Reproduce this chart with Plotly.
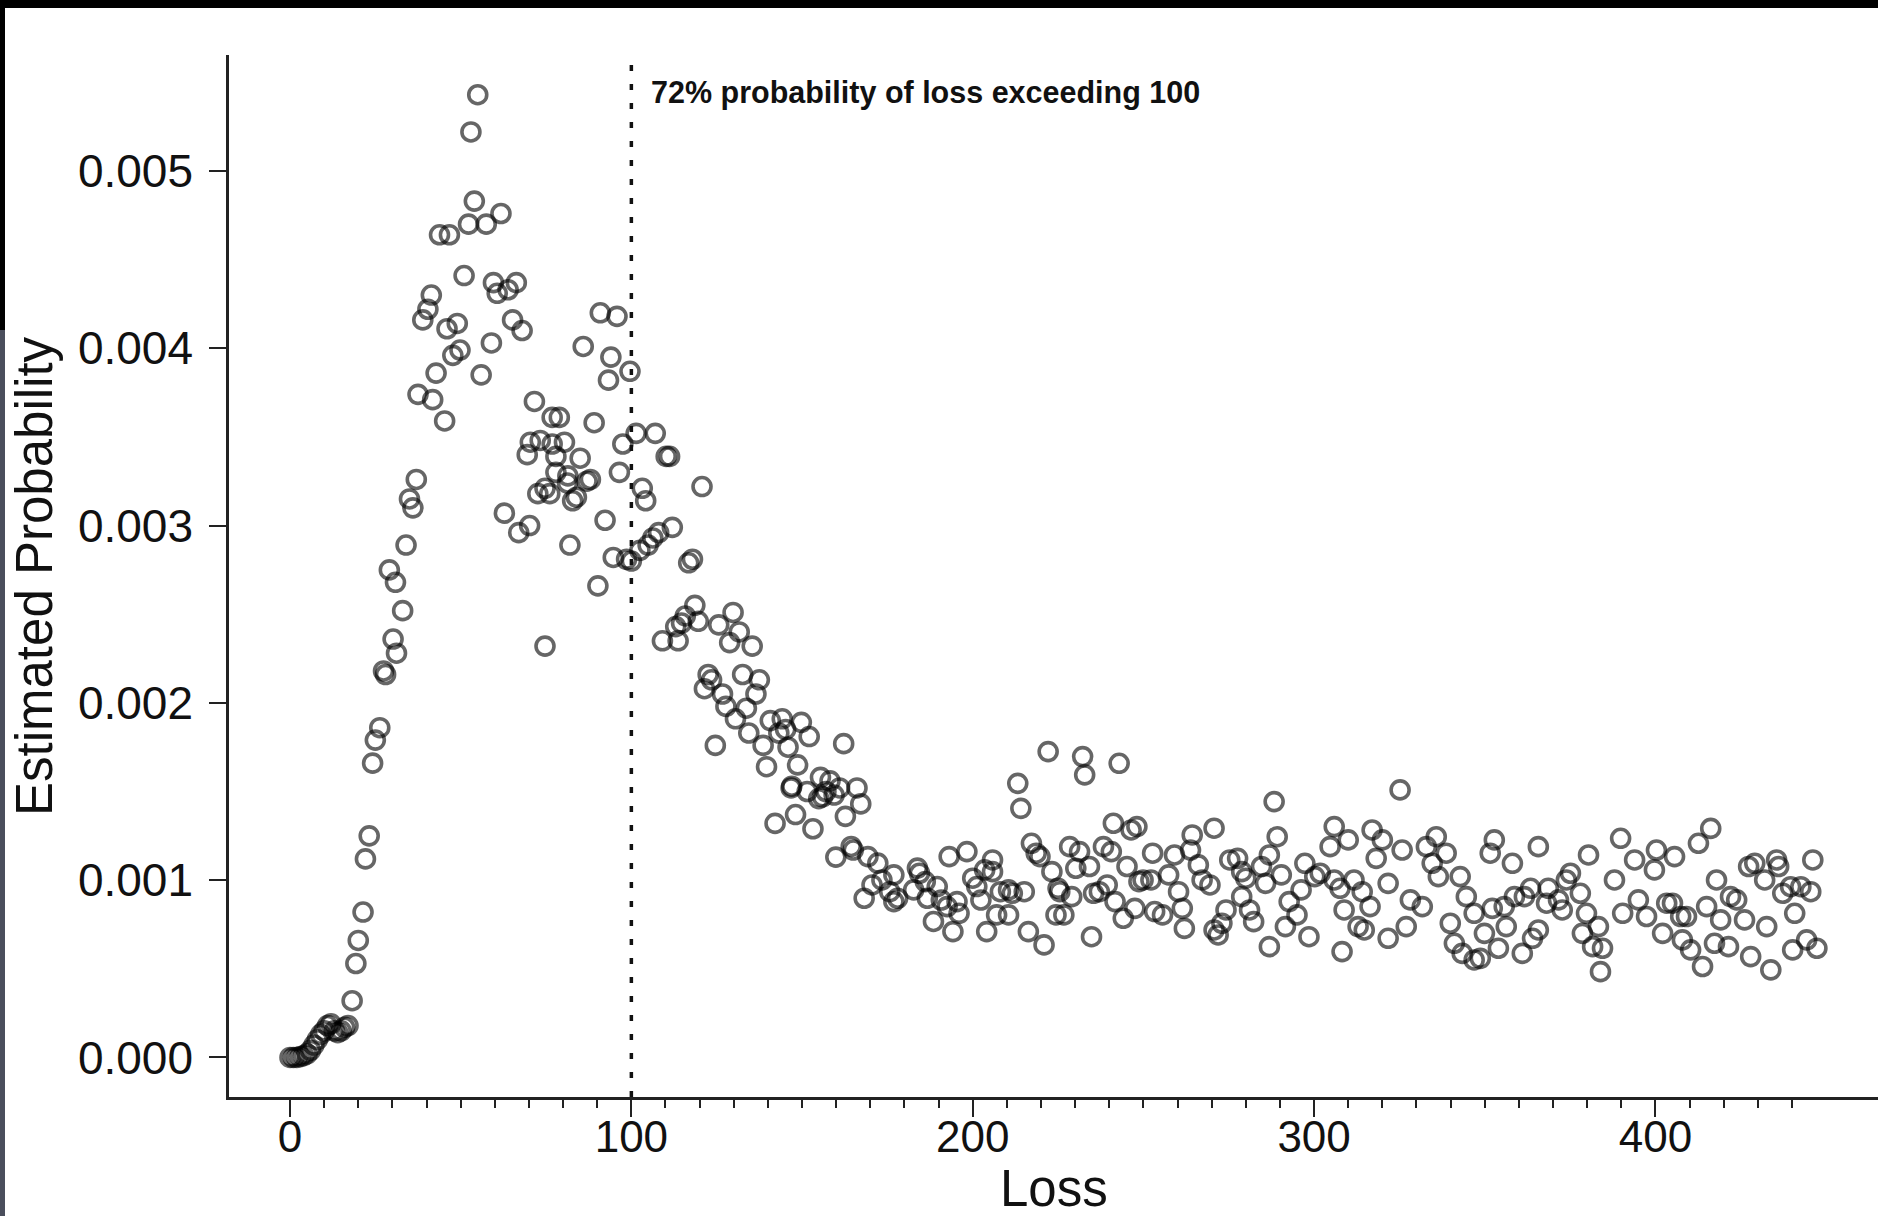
import plotly.graph_objects as go

# ---- data ----
loss = [
    0, 1, 2, 3, 4, 5, 6, 7, 8, 9, 10, 11, 12, 13, 14, 15, 16, 17,
    18.2, 19.3, 20.0, 21.4, 22.1, 23.2, 24.2, 25.0, 26.3, 27.4, 28.0, 29.1, 30.2, 30.9, 31.2,
    33.0, 34.0, 35.0, 36.0, 37.0, 37.5, 38.9, 40.4, 41.4, 41.8, 42.8, 43.8, 45.3, 46.7, 46.0,
    47.7, 49.0, 49.8, 51.0, 52.3, 53.0, 54.0, 55.0, 56.0, 57.5, 59.0, 59.6, 60.7, 61.8, 62.8,
    63.9, 65.2, 66.3, 67.0, 68.0, 69.5, 70.2, 70.4, 71.6, 72.6, 73.3, 74.7, 74.7, 76.1, 76.8,
    76.8, 77.9, 77.9, 78.9, 80.4, 81.3, 81.4, 82.0, 82.8, 83.9, 85.0, 85.9, 87.0, 88.0, 89.1,
    90.2, 90.9, 92.3, 93.3, 94.0, 94.7, 95.8, 96.5, 97.5, 98.6, 99.6, 100.0, 101.4, 102.5,
    103.2, 104.2, 104.9, 106.3, 107.0, 108.0, 109.1, 110.2, 111.2, 112.0, 113.0, 113.7, 114.7,
    115.8, 116.8, 117.9, 118.6, 119.6, 120.7, 121.4, 122.5, 123.5, 124.6, 125.6, 126.7, 127.7,
    128.8, 129.8, 130.5, 131.6, 132.6, 133.7, 134.4, 135.4, 136.5, 137.5, 138.6, 139.6, 140.7,
    142.1, 143.2,
    144.2, 145.2, 145.9, 146.8, 147.0, 148.1, 148.7, 149.8, 151.5, 152.1, 153.2, 154.9, 155.4,
    156.0, 157.0, 158.2, 159.4, 159.9, 161.0, 162.2, 162.7, 164.4, 165.0, 166.1, 167.2,
    169.3, 172.2, 168.2, 170.5, 173.4, 176.9, 175.7, 178.0, 176.9, 183.8, 184.4, 186.1, 182.7,
    186.7, 189.6, 188.5, 190.8, 192.5, 195.4, 196.0, 194.2, 193.1, 198.3, 200.0, 201.2, 202.4,
    203.5, 205.8, 205.8, 204.1, 208.1, 210.5, 211.6, 210.5, 207.0, 215.1, 216.3, 220.9, 217.2,
    218.6, 219.7, 223.2, 225.0, 225.5, 224.4, 226.7, 229.0, 228.4, 231.3, 230.2, 234.2, 235.4,
    234.8, 237.1, 239.4, 238.3, 240.6, 241.7, 244.1, 245.2, 247.5, 248.7, 249.9, 252.2, 252.7,
    253.3, 255.6, 257.4, 259.1, 260.3, 261.4, 262.0, 263.8, 266.1, 267.2, 269.5, 270.7, 271.9,
    273.0, 274.2, 275.3, 277.6, 278.8, 280.0, 278.8, 281.1, 282.3, 284.6, 286.9, 285.8, 290.4,
    286.9, 291.6, 292.7, 295.0, 296.2, 298.5, 297.3, 300.2,
    241.2, 246.4, 248.1, 264.3, 270.7, 289.2,
    222.1, 232.2, 232.8, 242.9, 213.2, 214.1, 288.3,
    301.8, 305.9, 304.7, 310.0, 305.9, 307.6, 311.7, 308.8, 314.1, 316.4, 312.9, 314.7, 308.2,
    317.0, 320.0, 318.2, 325.8, 321.7, 321.7, 327.0, 325.2, 328.2, 331.7, 332.9, 335.8, 334.6,
    338.7, 336.4, 339.9, 341.1, 342.8, 344.6, 346.9, 343.4, 346.9, 348.7, 349.9, 352.8, 351.6,
    358.1, 352.2, 355.7, 354.0, 356.3, 358.7, 361.6, 363.4, 361.0, 365.7, 368.6, 365.7, 364.0,
    368.1, 371.6, 373.9, 372.7, 375.1, 378.0, 380.4, 379.8, 378.6, 381.6, 383.9, 384.5, 383.3,
    388.0, 389.8, 390.4, 393.9, 395.0, 397.4, 400.3, 399.7, 405.6, 403.3, 402.1, 405.0, 407.4,
    409.1, 407.9, 410.3, 413.8, 412.6, 416.2, 415.0, 417.9, 419.1, 421.4, 417.3, 422.0, 423.8,
    426.1, 427.3, 429.1, 427.9, 432.6, 433.8, 432.0, 435.5, 436.1, 437.3, 439.6, 440.8, 440.2,
    442.6, 444.3, 445.5, 446.1, 447.3,
]

# estimated probability, in thousandths
prob_milli = [
    0.0, 0.0, 0.0, 0.005, 0.01, 0.02, 0.04, 0.07, 0.10, 0.13, 0.15, 0.18, 0.19, 0.15, 0.14, 0.15, 0.17, 0.18,
    0.32, 0.53, 0.66, 0.82, 1.12, 1.25, 1.66, 1.79, 1.86, 2.18, 2.16, 2.75, 2.36, 2.68, 2.28,
    2.52, 2.89, 3.15, 3.10, 3.26, 3.74, 4.16, 4.22, 4.30, 3.71, 3.86, 4.64, 3.59, 4.64, 4.11,
    3.96, 4.14, 3.99, 4.41, 4.70, 5.22, 4.83, 5.43, 3.85, 4.70, 4.03, 4.37, 4.31, 4.76, 3.07,
    4.33, 4.16, 4.37, 2.96, 4.10, 3.40, 3.00, 3.47, 3.70, 3.18, 3.48, 2.32, 3.21, 3.18, 3.61,
    3.46, 3.39, 3.30, 3.61, 3.47, 3.24, 3.28, 2.89, 3.14, 3.16, 3.38, 4.01, 3.25, 3.26, 3.58,
    2.66, 4.20, 3.03, 3.82, 3.95, 2.82, 4.18, 3.30, 3.46, 2.81, 3.87, 2.80, 3.52, 2.86,
    3.21, 3.14, 2.89, 2.93, 3.52, 2.96, 2.35, 3.39, 3.39, 2.99, 2.43, 2.35, 2.45,
    2.49, 2.79, 2.81, 2.55, 2.46, 3.22, 2.08, 2.16, 2.13, 1.76, 2.44, 2.05, 1.98,
    2.34, 2.51, 1.91, 2.40, 2.16, 1.97, 1.83, 2.32, 2.05, 2.13, 1.76, 1.64, 1.90,
    1.32, 1.83,
    1.91, 1.85, 1.75, 1.52, 1.53, 1.37, 1.65, 1.89, 1.50, 1.81, 1.29, 1.46, 1.58,
    1.47, 1.50, 1.56, 1.48, 1.13, 1.52, 1.77, 1.36, 1.19, 1.17, 1.52, 1.43,
    1.133, 1.096, 0.898, 0.973, 1.001, 1.030, 0.935, 0.898, 0.879, 1.068, 1.039, 0.992, 0.945,
    0.898, 0.964, 0.767, 0.888, 0.851, 0.879, 0.813, 0.710, 1.133, 1.161, 1.011, 0.964, 0.888,
    1.058, 1.114, 1.048, 0.710, 0.935, 0.945, 0.926, 0.804, 0.804, 0.935, 0.710, 0.635, 1.208,
    1.152, 1.133, 1.048, 0.954, 0.935, 0.804, 0.804, 0.907, 1.189, 1.161, 1.067, 1.077, 0.926,
    0.681, 0.935, 0.973, 1.189, 1.161, 0.879, 0.785, 1.077, 0.841, 0.992, 1.001, 1.001, 1.152,
    0.823, 0.804, 1.030, 1.142, 0.935, 0.841, 0.728, 1.170, 1.086, 1.001, 0.973, 0.719, 0.691,
    0.757, 0.832, 1.114, 1.123, 1.048, 1.011, 0.907, 0.832, 0.766, 1.077, 1.142, 0.982, 1.030,
    0.625, 0.738, 0.879, 0.804, 0.945, 0.681, 1.095, 1.020,
    1.321, 1.283, 1.302, 1.255, 1.293, 1.245,
    1.725, 1.697, 1.594, 1.659, 1.546, 1.405, 1.443,
    1.039, 1.302, 1.189, 1.227, 1.001, 0.954, 1.001, 0.832, 0.935, 0.851, 0.738, 0.719, 0.597,
    1.283, 1.227, 1.123, 1.170, 0.982, 0.672, 0.738, 1.509, 0.889, 0.851, 1.189, 1.245, 1.095,
    1.152, 1.020, 0.757, 0.644, 1.020, 0.907, 0.813, 0.587, 0.550, 0.559, 0.700, 1.227, 1.152,
    1.095, 0.841, 0.851, 0.616, 0.738, 0.907, 0.907, 0.954, 0.587, 1.189, 0.954, 0.719, 0.672,
    0.870, 0.889, 1.001, 0.832, 1.039, 0.926, 1.142, 0.813, 0.700, 0.625, 0.484, 0.616, 0.738,
    1.001, 1.236, 0.813, 1.114, 0.889, 0.795, 1.170, 1.058, 1.133, 0.870, 0.700, 0.870, 0.795,
    0.795, 0.663, 0.607, 0.513, 1.208, 1.292, 0.851, 1.001, 0.776, 0.625, 0.644, 0.907, 0.889,
    0.776, 1.077, 1.095, 0.569, 0.738, 0.494, 1.001, 1.114, 1.077, 0.926, 0.963, 0.813, 0.607,
    0.963, 0.663, 0.935, 1.114, 0.616,
]
prob = [v / 1000 for v in prob_milli]

threshold = 100
annotation_text = "72% probability of loss exceeding 100"
x_major_ticks = [0, 100, 200, 300, 400]
x_minor_ticks = list(range(0, 441, 10))
y_ticks = [0.000, 0.001, 0.002, 0.003, 0.004, 0.005]
y_ticklabels = ["0.000", "0.001", "0.002", "0.003", "0.004", "0.005"]

W, H = 1878, 1216
ML, MR, MT, MB = 229, 0, 55, 119
PW, PH = W - ML - MR, H - MT - MB


def px_x(px):
    return (px - ML) / PW


def px_y(py):
    return (H - MB - py) / PH


fig = go.Figure()
fig.add_trace(go.Scatter(
    x=loss, y=prob, mode="markers",
    marker=dict(symbol="circle-open", size=18, color="rgba(0,0,0,0.6)",
                line=dict(width=3.6, color="rgba(0,0,0,0.6)")),
    hoverinfo="skip", showlegend=False,
))

font_family = "Liberation Sans, Arial, Helvetica, sans-serif"

fig.update_layout(
    width=W, height=H,
    margin=dict(l=ML, r=MR, t=MT, b=MB, pad=0),
    paper_bgcolor="white", plot_bgcolor="white",
    font=dict(family=font_family, color="#111"),
    xaxis=dict(
        range=[-17.87, 465.2], showgrid=False, zeroline=False,
        showline=True, linecolor="#222", linewidth=2.5,
        ticks="outside", ticklen=17, tickwidth=2, tickcolor="#222",
        tickmode="array", tickvals=x_major_ticks,
        ticktext=[str(v) for v in x_major_ticks],
        tickfont=dict(size=44, family=font_family, color="#111"),
        ticklabelstandoff=-18,
        minor=dict(tickmode="array", tickvals=x_minor_ticks, ticks="outside",
                   ticklen=8, tickwidth=1.5, tickcolor="#222", showgrid=False),
    ),
    yaxis=dict(
        range=[-0.000223, 0.005654], showgrid=False, zeroline=False,
        showline=True, linecolor="#222", linewidth=2.5,
        ticks="outside", ticklen=17, tickwidth=2, tickcolor="#222",
        tickmode="array", tickvals=y_ticks, ticktext=y_ticklabels,
        tickfont=dict(size=46, family=font_family, color="#111"),
        ticklabelstandoff=7,
    ),
    shapes=[
        dict(type="line", xref="x", yref="paper", x0=threshold, x1=threshold, y0=0, y1=1,
             line=dict(color="#111", width=3.5, dash="6px,13px")),
        # screenshot frame strips
        dict(type="rect", xref="paper", yref="paper", x0=px_x(0), x1=px_x(W), y0=px_y(0), y1=px_y(8),
             fillcolor="black", line=dict(width=0), layer="above"),
        dict(type="rect", xref="paper", yref="paper", x0=px_x(0), x1=px_x(5), y0=px_y(0), y1=px_y(330),
             fillcolor="black", line=dict(width=0), layer="above"),
        dict(type="rect", xref="paper", yref="paper", x0=px_x(0), x1=px_x(5), y0=px_y(330), y1=px_y(H),
             fillcolor="#4a4e5c", line=dict(width=0), layer="above"),
    ],
    annotations=[
        dict(x=105.2, y=0.005443, xref="x", yref="y", text="<b>" + annotation_text + "</b>",
             showarrow=False, xanchor="left", yanchor="middle",
             font=dict(size=30.5, family=font_family, color="#111")),
        dict(x=0.5, y=px_y(1188), xref="paper", yref="paper", text="Loss", showarrow=False,
             xanchor="center", yanchor="middle", font=dict(size=51, family=font_family, color="#111")),
        dict(x=px_x(34), y=0.5, xref="paper", yref="paper", text="Estimated Probability",
             showarrow=False, textangle=-90, xanchor="center", yanchor="middle",
             font=dict(size=51, family=font_family, color="#111")),
    ],
)

fig.write_html("out.html")
